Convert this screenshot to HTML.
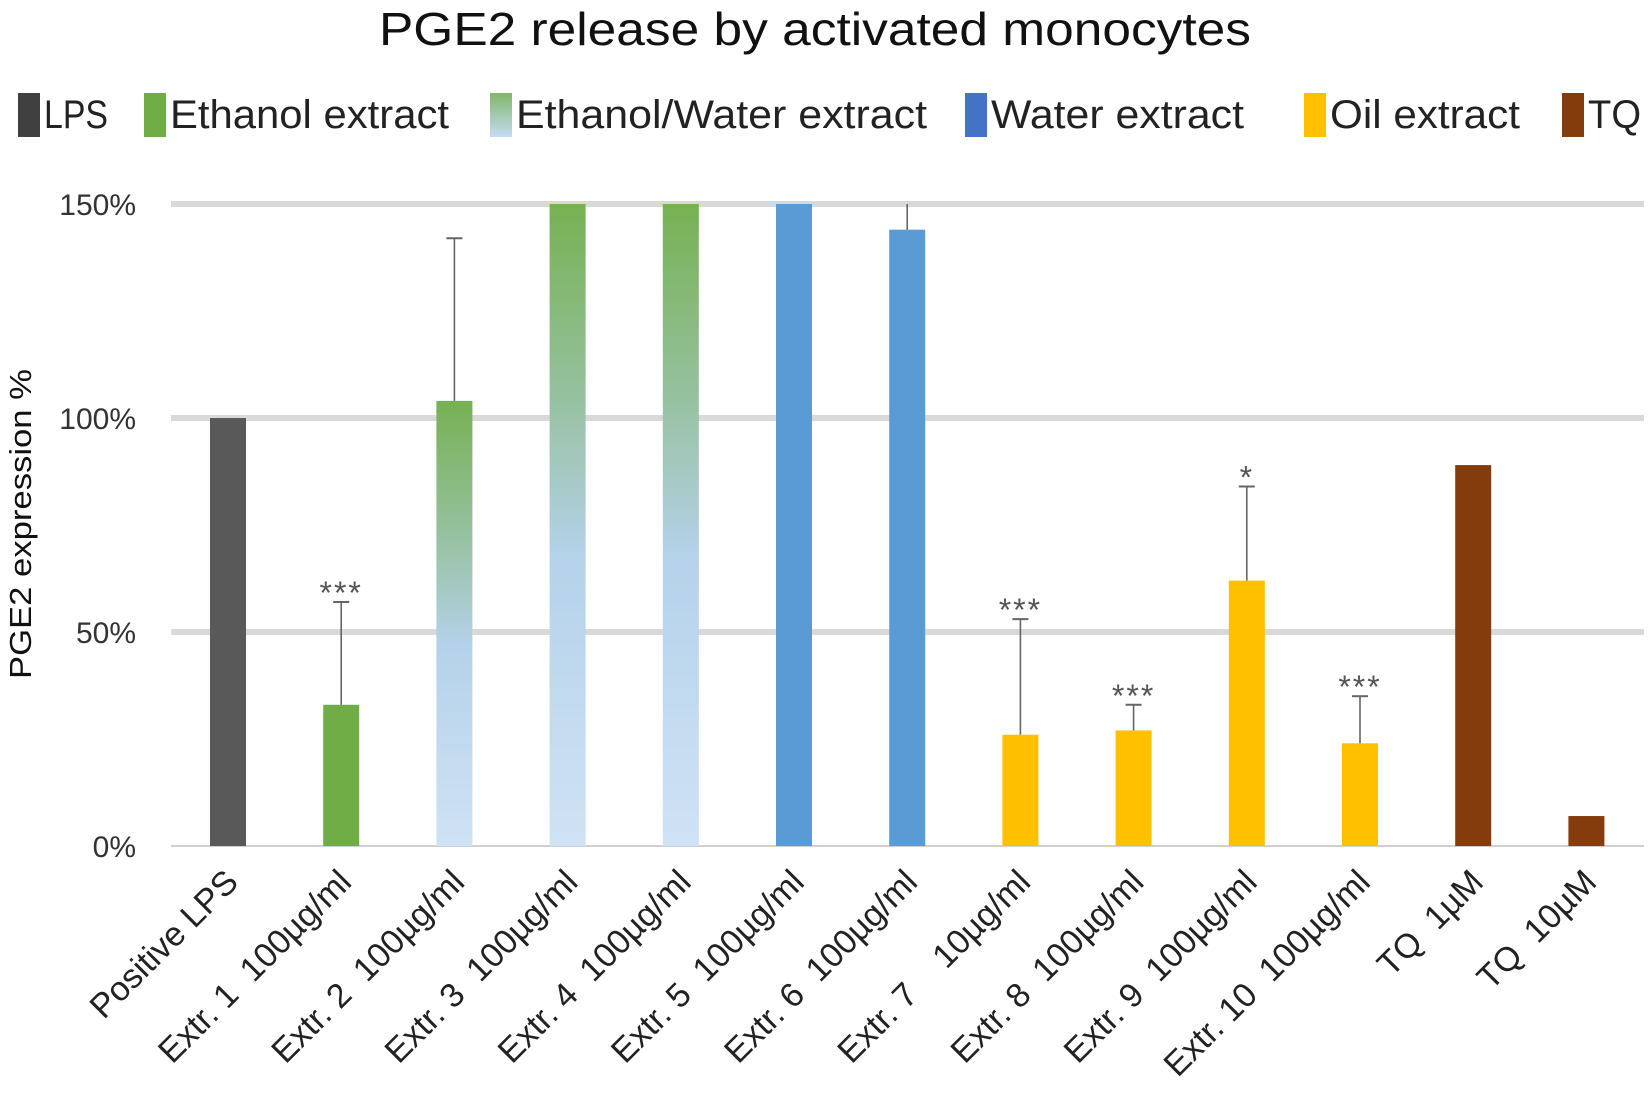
<!DOCTYPE html>
<html><head><meta charset="utf-8"><style>
body{margin:0;background:#fff}
svg{display:block;font-family:"Liberation Sans",sans-serif}
</style></head><body>
<svg id="chart" width="1650" height="1102" viewBox="0 0 1650 1102">
<defs>
<linearGradient id="ew" x1="0" y1="0" x2="0" y2="1">
<stop offset="0" stop-color="#76b152"/><stop offset="0.3" stop-color="#96c19f"/><stop offset="0.55" stop-color="#b4d2ea"/><stop offset="1" stop-color="#d0e2f5"/>
</linearGradient>
<linearGradient id="ewleg" x1="0" y1="0" x2="0" y2="1"><stop offset="0" stop-color="#82b76a"/><stop offset="1" stop-color="#c5dbf4"/></linearGradient>
</defs>
<text x="815" y="45" text-anchor="middle" font-size="46" textLength="872" lengthAdjust="spacingAndGlyphs" fill="#111">PGE2 release by activated monocytes</text>
<g id="legend"></g>
<g id="grid"></g>
<g id="bars"></g>
<g id="xl"></g>
<text transform="translate(31,524) rotate(-90)" text-anchor="middle" font-size="31" textLength="310" lengthAdjust="spacingAndGlyphs" fill="#111">PGE2 expression %</text>
</svg>
<script>
const categories=["Positive LPS","Extr. 1  100µg/ml","Extr. 2  100µg/ml","Extr. 3  100µg/ml","Extr. 4  100µg/ml","Extr. 5  100µg/ml","Extr. 6  100µg/ml","Extr. 7    10µg/ml","Extr. 8  100µg/ml","Extr. 9  100µg/ml","Extr. 10  100µg/ml","TQ  1µM","TQ  10µM"];
const values=[100,33,104,150,150,150,144,26,27,62,24,89,7];
const errTop=[null,57,142,null,null,null,150,53,33,84,35,null,null];
const stars=["","***","","","","","","***","***","*","***","",""];
const groups=["lps","eth","ew","ew","ew","wat","wat","oil","oil","oil","oil","tq","tq"];
const yTicks=[0,50,100,150];
const yTickLabels=["0%","50%","100%","150%"];
const legendLabels=["LPS","Ethanol extract","Ethanol/Water extract","Water extract","Oil extract","TQ"];
const colors={lps:"#595959",eth:"#70ad47",ew:"url(#ew)",wat:"#5b9bd5",oil:"#ffc000",tq:"#843c0c"};
const NS="http://www.w3.org/2000/svg";
function mk(t,a,p){const e=document.createElementNS(NS,t);for(const k in a)e.setAttribute(k,a[k]);p.appendChild(e);return e;}
const y=v=>846-v*4.28;
const x=i=>228+i*113.2;
const bw=36;
const grid=document.getElementById('grid');
yTicks.forEach((t,i)=>{
 const l=mk('line',{x1:171,x2:1644,y1:y(t),y2:y(t),stroke:t===0?'#d0d0d0':'#d9d9d9','stroke-width':t===0?2:6},grid);
 
 
 const tx=mk('text',{x:136,y:y(t)+11,'text-anchor':'end','font-size':30,fill:'#333'},grid);
 tx.textContent=yTickLabels[i];
 
 
});
const bars=document.getElementById('bars');
const xl=document.getElementById('xl');
values.forEach((v,i)=>{
 const vv=Math.min(v,150);
 const r=mk('rect',{x:x(i)-bw/2,y:y(vv),width:bw,height:y(0)-y(vv),fill:colors[groups[i]]},bars);
 
 
 if(errTop[i]!=null){
  const et=Math.min(errTop[i],150);
  const l=mk('line',{x1:x(i),x2:x(i),y1:y(vv),y2:y(et),stroke:'#666','stroke-width':1.6},bars);
  
  
  if(errTop[i]<150){
   const c=mk('line',{x1:x(i)-8,x2:x(i)+8,y1:y(et),y2:y(et),stroke:'#666','stroke-width':2},bars);
   
   
  }
 }
 if(stars[i]){
  const s=mk('text',{x:x(i),y:y(errTop[i])+2,'text-anchor':'middle','font-size':32,fill:'#555','letter-spacing':2},bars);
  s.textContent=stars[i];
  
  
 }
 const t=mk('text',{transform:`translate(${x(i)+12},884) rotate(-45)`,'text-anchor':'end','font-size':34,fill:'#222'},xl);
 t.setAttribute('xml:space','preserve');
 t.style.whiteSpace='pre';
 t.textContent=categories[i];
 
 
});
const leg=document.getElementById('legend');
const legX=[18,144,490,965,1304,1562];
const legW=[64,279,411,253,190,53];
const legFill=["#404040","#70ad47","url(#ewleg)","#4472c4","#ffc000","#843c0c"];
legendLabels.forEach((lab,i)=>{
 const r=mk('rect',{x:legX[i],y:93,width:22,height:44,fill:legFill[i]},leg);
 
 
 const t=mk('text',{x:legX[i]+26,y:128,'font-size':40,fill:'#222',textLength:legW[i],lengthAdjust:'spacingAndGlyphs'},leg);
 t.textContent=lab;
 
 
});
</script>
</body></html>
